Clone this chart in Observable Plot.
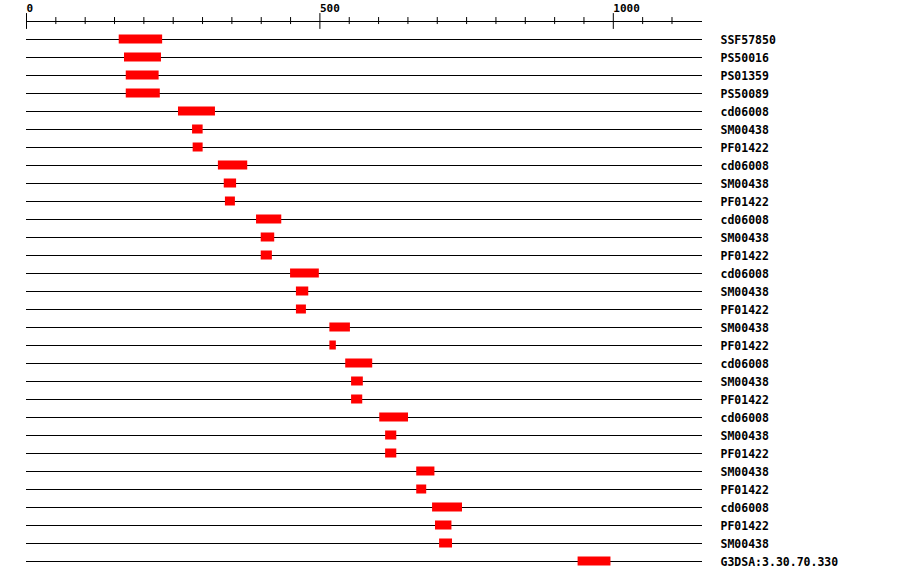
<!DOCTYPE html>
<html>
<head>
<meta charset="utf-8">
<script src="https://cdn.jsdelivr.net/npm/d3@7"></script>
<script src="https://cdn.jsdelivr.net/npm/@observablehq/plot@0.6"></script>
<style>
  html, body { margin: 0; padding: 0; background: #fff; }
  #chart svg { display: block; }
</style>
</head>
<body>
<div id="chart"></div>
<script>
// Domain architecture data (positions in residues)
const seqLength = 1152;
const labels = ["SSF57850","PS50016","PS01359","PS50089","cd06008","SM00438","PF01422",
  "cd06008","SM00438","PF01422","cd06008","SM00438","PF01422","cd06008","SM00438","PF01422",
  "SM00438","PF01422","cd06008","SM00438","PF01422","cd06008","SM00438","PF01422",
  "SM00438","PF01422","cd06008","PF01422","SM00438","G3DSA:3.30.70.330"];
const starts = [158,167,170,170,259,283,284,327,337,339,392,400,400,450,460,460,
  517,517,544,554,554,602,612,612,665,665,692,697,704,940];
const ends =   [232,230,226,228,322,301,301,377,358,356,435,423,419,499,481,477,
  552,528,590,574,573,651,631,631,696,682,743,725,726,996];
const majorTicks = [0, 500, 1000];
const minorTicks = [50,100,150,200,250,300,350,400,450,550,600,650,700,750,800,850,900,950,1050,1100];

const rows = labels.map((label, i) => ({row: i, label, start: starts[i], end: ends[i]}));
const font = "'DejaVu Sans Mono', 'Liberation Mono', monospace";

const chart = Plot.plot({
  width: 900,
  height: 580,
  marginLeft: 26,
  marginRight: 198,
  marginTop: 0,
  marginBottom: 0,
  x: {domain: [0, seqLength], axis: null},
  y: {type: "linear", domain: [0, labels.length - 1], range: [39, 39 + 18 * (labels.length - 1)], axis: null},
  marks: [
    // ruler
    Plot.ruleY([-1], {x1: 0, x2: seqLength, stroke: "black", strokeWidth: 1}),
    Plot.ruleX(majorTicks, {x: d => d, y1: -1.44, y2: -0.56, stroke: "black", strokeWidth: 1}),
    Plot.ruleX(minorTicks, {x: d => d, y1: -1.22, y2: -0.83, stroke: "black", strokeWidth: 1}),
    Plot.text(majorTicks, {x: d => d, text: d => String(d), frameAnchor: "top", lineAnchor: "top",
      dy: 4, textAnchor: "start", fontFamily: font, fontWeight: "bold", fontSize: 11, fill: "black"}),
    // sequence lines
    Plot.ruleY(rows, {y: "row", x1: 0, x2: seqLength, stroke: "black", strokeWidth: 1}),
    // domains
    Plot.rect(rows, {x1: "start", x2: "end", y1: d => d.row - 0.25, y2: d => d.row + 0.25, fill: "#ff0000"}),
    // labels
    Plot.text(rows, {x: seqLength, y: "row", text: "label", dx: 18, dy: 1, textAnchor: "start",
      fontFamily: font, fontWeight: "bold", fontSize: 11.5, fill: "black"})
  ]
});
document.getElementById("chart").appendChild(chart);
</script>
</body>
</html>
